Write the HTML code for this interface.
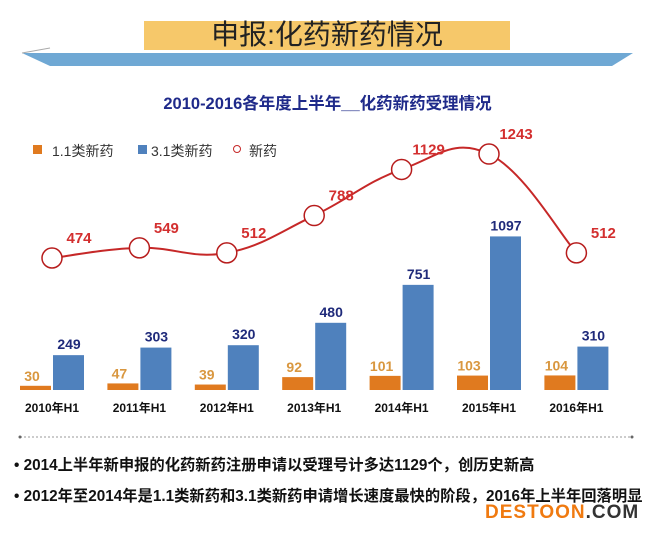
<!DOCTYPE html>
<html><head><meta charset="utf-8"><style>
html,body{margin:0;padding:0;background:#fff;}
body{width:655px;height:534px;position:relative;overflow:hidden;font-family:"Liberation Sans","Noto Sans CJK SC",sans-serif;}
.t{position:absolute;white-space:nowrap;}
</style></head><body>
<div style="position:absolute;left:144px;top:21px;width:366px;height:29px;background:#f6c86a;"></div>
<div class="t" style="left:144px;top:18px;width:366px;text-align:center;font-size:28px;color:#222;line-height:34px;">申报:化药新药情况</div>
<svg style="position:absolute;left:0;top:0" width="655" height="80"><polygon points="22,53 633,53 612,66 50,66" fill="#6fa8d4"/><line x1="22" y1="53" x2="50" y2="48" stroke="#aaa"/></svg>
<div class="t" style="left:0;width:655px;text-align:center;top:90px;font-size:16.5px;font-weight:bold;color:#1f2a8a;">2010-2016各年度上半年__化药新药受理情况</div>
<div style="position:absolute;left:30px;top:141px;font-size:14px;color:#333;height:18px;">
<span style="position:absolute;left:3px;top:4px;width:9px;height:9px;background:#e07a1f"></span>
<span class="t" style="left:22px;top:0">1.1类新药</span>
<span style="position:absolute;left:108px;top:4px;width:9px;height:9px;background:#4f81bd"></span>
<span class="t" style="left:121px;top:0">3.1类新药</span>
<span style="position:absolute;left:203px;top:4px;width:6px;height:6px;border:1.5px solid #c62828;border-radius:50%"></span>
<span class="t" style="left:219px;top:0">新药</span>
</div>
<svg id="chart" style="position:absolute;left:0;top:0" width="655" height="534"></svg>
<svg style="position:absolute;left:0;top:430px" width="655" height="14"><line x1="20" y1="7" x2="632" y2="7" stroke="#999" stroke-dasharray="2,2"/><circle cx="20" cy="7" r="1.5" fill="#666"/><circle cx="632" cy="7" r="1.5" fill="#666"/></svg>
<div class="t" style="left:14px;top:453px;font-size:15.3px;font-weight:bold;color:#111;">• 2014上半年新申报的化药新药注册申请以受理号计多达1129个，创历史新高</div>
<div class="t" style="left:14px;top:484px;font-size:15.3px;font-weight:bold;color:#111;">• 2012年至2014年是1.1类新药和3.1类新药申请增长速度最快的阶段，2016年上半年回落明显</div>
<div class="t" style="left:485px;top:503px;font-size:19px;line-height:20px;font-weight:bold;letter-spacing:1px;"><span style="color:#f07a10">DESTOON</span><span style="color:#333">.COM</span></div>
<script>
const categories=["2010年H1","2011年H1","2012年H1","2013年H1","2014年H1","2015年H1","2016年H1"];
const orangeValues=[30,47,39,92,101,103,104];
const blueValues=[249,303,320,480,751,1097,310];
const lineValues=[474,549,512,788,1129,1243,512];
const svg=document.getElementById('chart');
const NS='http://www.w3.org/2000/svg';
const base=390, barScale=0.14;
function xc(i){return 52+i*87.4;}
function yBar(v){return base-v*barScale;}
function yLine(v){return 258-(v-474)*0.1352;}
function mk(tag,attrs){const e=document.createElementNS(NS,tag);for(const k in attrs)e.setAttribute(k,attrs[k]);svg.appendChild(e);return e;}
function txt(x,y,s,fill,size,anchor){const e=mk('text',{x:x,y:y,fill:fill,'font-size':size,'font-weight':'bold','text-anchor':anchor||'middle','font-family':'Liberation Sans, Noto Sans CJK SC, sans-serif'});e.textContent=s;return e;}
categories.forEach((c,i)=>{
  const x=xc(i);
  const ob=mk('rect',{x:x-32,y:yBar(orangeValues[i]),width:31,height:orangeValues[i]*barScale,fill:'#e07a1f'});
  
  
  const bb=mk('rect',{x:x+1,y:yBar(blueValues[i]),width:31,height:blueValues[i]*barScale,fill:'#4f81bd'});
  
  
  const ol=txt(x-20,yBar(orangeValues[i])-5,String(orangeValues[i]),'#d9973f',14);
  
  
  const bl=txt(x+17,yBar(blueValues[i])-6,String(blueValues[i]),'#1f2a7a',14);
  
  
  const cl=txt(x,412,c,'#111',12);
  
  
});
const pts=lineValues.map((v,i)=>[xc(i),yLine(v)]);
let d='M'+pts[0][0]+','+pts[0][1];
for(let i=0;i<pts.length-1;i++){
  const p0=pts[i-1]||pts[i],p1=pts[i],p2=pts[i+1],p3=pts[i+2]||p2;
  const t=0.2;
  d+=' C'+(p1[0]+(p2[0]-p0[0])*t)+','+(p1[1]+(p2[1]-p0[1])*t)+' '+(p2[0]-(p3[0]-p1[0])*t)+','+(p2[1]-(p3[1]-p1[1])*t)+' '+p2[0]+','+p2[1];
}
const ln=mk('path',{d:d,fill:'none',stroke:'#c62828','stroke-width':2});


pts.forEach((p,i)=>{
  const c=mk('circle',{cx:p[0],cy:p[1],r:10,fill:'#fff',stroke:'#b71c1c','stroke-width':1.5});
  
  
  const l=txt(p[0]+27,p[1]-15,String(lineValues[i]),'#d32f2f',15);
  
  
});
</script>
</body></html>
